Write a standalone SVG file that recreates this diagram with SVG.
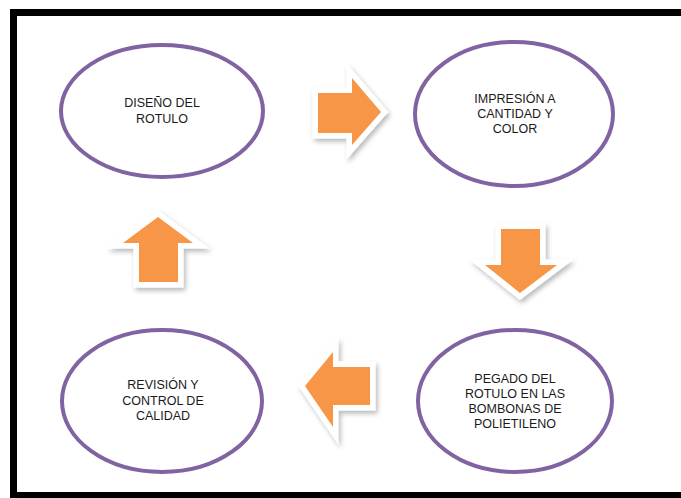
<svg xmlns="http://www.w3.org/2000/svg" width="681" height="498" viewBox="0 0 681 498">
  <defs>
    <filter id="sh" x="-30%" y="-30%" width="160%" height="160%">
      <feDropShadow dx="2" dy="3" stdDeviation="2.5" flood-color="#000" flood-opacity="0.28"/>
    </filter>
    <style>
      .node ellipse { fill: #ffffff; stroke: #8064A2; stroke-width: 4; }
      .node text { font-family: "Liberation Sans", Arial, sans-serif; font-size: 12.5px; fill: #1a1a1a; text-anchor: middle; }
      .arrow { fill: #F79646; stroke: #ffffff; stroke-width: 11; stroke-linejoin: miter; paint-order: stroke; filter: url(#sh); }
    </style>
  </defs>
  <rect width="681" height="498" fill="#ffffff"/>
  <rect x="13.5" y="12.5" width="700" height="483" fill="none" stroke="#000" stroke-width="7"/>

  <g id="connectors">
    <polygon class="arrow" points="318,93 352,93 352,78 381,112 352,145 352,133 318,133"/>
    <polygon class="arrow" points="501,229 540,229 540,265 557,265 520,293 485,265 501,265"/>
    <polygon class="arrow" points="370,367 333,367 333,352 305,386 333,427 333,405 370,405"/>
    <polygon class="arrow" points="139,282 178,282 178,243 193,243 158,217 123,243 139,243"/>
  </g>

  <g id="node-diseno" class="node">
    <ellipse cx="162" cy="111" rx="101" ry="66"/>
    <text x="162" y="107">DISEÑO DEL</text>
    <text x="162" y="123">ROTULO</text>
  </g>
  <g id="node-impresion" class="node">
    <ellipse cx="514" cy="114" rx="99" ry="72"/>
    <text x="515" y="103">IMPRESIÓN A</text>
    <text x="515" y="118">CANTIDAD Y</text>
    <text x="515" y="133">COLOR</text>
  </g>
  <g id="node-pegado" class="node">
    <ellipse cx="515" cy="401" rx="97" ry="71"/>
    <text x="515" y="383">PEGADO DEL</text>
    <text x="515" y="398">ROTULO EN LAS</text>
    <text x="515" y="413">BOMBONAS DE</text>
    <text x="515" y="428">POLIETILENO</text>
  </g>
  <g id="node-revision" class="node">
    <ellipse cx="162" cy="401" rx="100" ry="71"/>
    <text x="163" y="389">REVISIÓN Y</text>
    <text x="163" y="405">CONTROL DE</text>
    <text x="163" y="420">CALIDAD</text>
  </g>
</svg>
